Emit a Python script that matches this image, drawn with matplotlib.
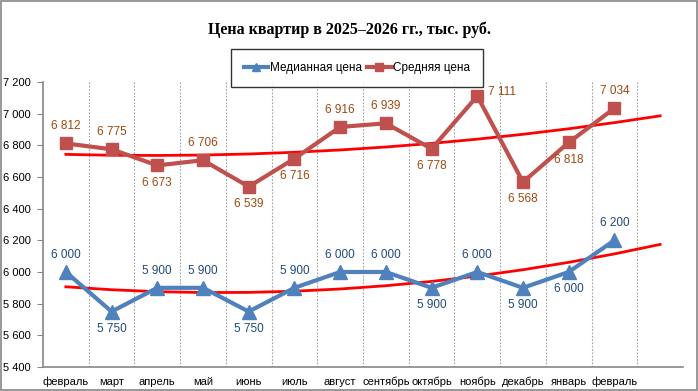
import numpy as np
import matplotlib
matplotlib.use("Agg")
import matplotlib.pyplot as plt
from matplotlib.lines import Line2D
from matplotlib.patches import Rectangle

months = ["февраль", "март", "апрель", "май", "июнь", "июль", "август",
          "сентябрь", "октябрь", "ноябрь", "декабрь", "январь", "февраль"]
median_price = [6000, 5750, 5900, 5900, 5750, 5900, 6000, 6000, 5900, 6000, 5900, 6000, 6200]
mean_price = [6812, 6775, 6673, 6706, 6539, 6716, 6916, 6939, 6778, 7111, 6568, 6818, 7034]
# where each data label sits: a = above, b = below, r = right
median_pos = ["a", "b", "a", "a", "b", "a", "a", "a", "b", "a", "b", "b", "a"]
mean_pos = ["a", "a", "b", "a", "b", "b", "a", "a", "b", "r", "b", "b", "a"]
yticks = [5400, 5600, 5800, 6000, 6200, 6400, 6600, 6800, 7000, 7200]

blue = "#4F81BD"
red = "#C0504D"
blue_lbl = "#1F497D"
red_lbl = "#9E480E"
font = "Liberation Sans"

def fmt(v):
    return "{:,}".format(v).replace(",", " ")

fig = plt.figure(figsize=(6.98, 3.91), dpi=100)
ax = fig.add_axes([0.0616, 0.0614, 0.9169, 0.7289])

x = np.arange(len(months))
xt = np.arange(len(months) + 1)

# polynomial (2nd order) trendlines, forecast one period forward
for data in (median_price, mean_price):
    c = np.polyfit(x, data, 2)
    ax.plot(xt, np.polyval(c, xt), color="red", lw=2, zorder=2)

ax.plot(x, median_price, color=blue, lw=3, marker="^", ms=10, zorder=3)
ax.plot(x, mean_price, color=red, lw=3, marker="s", ms=9, zorder=3)

def labels(data, pos, color):
    for i, (v, p) in enumerate(zip(data, pos)):
        if p == "a":
            ax.annotate(fmt(v), (i, v), xytext=(0, 8), textcoords="offset points",
                        ha="center", va="bottom", color=color, fontsize=8.5, family=font)
        elif p == "b":
            ax.annotate(fmt(v), (i, v), xytext=(0, -8), textcoords="offset points",
                        ha="center", va="top", color=color, fontsize=8.5, family=font)
        else:
            ax.annotate(fmt(v), (i, v), xytext=(8, 3), textcoords="offset points",
                        ha="left", va="center", color=color, fontsize=8.5, family=font)

labels(median_price, median_pos, blue_lbl)
labels(mean_price, mean_pos, red_lbl)

ax.set_xlim(-0.5, len(months) - 0.5 + 1)
ax.set_ylim(yticks[0], yticks[-1])
ax.set_yticks(yticks)
ax.set_yticklabels([fmt(v) for v in yticks], family=font, fontsize=8)
ax.set_xticks(x)
ax.set_xticklabels(months, family=font, fontsize=8)
ax.tick_params(axis="x", length=0, pad=7)
ax.tick_params(axis="y", length=4, color="#868686", pad=5)

for b in np.arange(0.5, len(months) + 0.5, 1):
    ax.axvline(b, color="#A0A0A0", lw=0.8, ls=(0, (1.5, 1.5)), zorder=1)

for s in ["top", "right"]:
    ax.spines[s].set_visible(False)
for s in ["left", "bottom"]:
    ax.spines[s].set_color("#868686")
    ax.spines[s].set_linewidth(1.2)

fig.text(0.5, 0.923, "Цена квартир в 2025–2026 гг., тыс. руб.", ha="center", va="center",
         family="Liberation Serif", fontweight="bold", fontsize=11.5)

handles = [Line2D([], [], color=blue, lw=3, marker="^", ms=6),
           Line2D([], [], color=red, lw=3, marker="s", ms=5.5)]
leg = fig.legend(handles, ["Медианная цена", "Средняя цена"], loc="center",
                 bbox_to_anchor=(0.5115, 0.825), ncol=2, frameon=True, fancybox=False,
                 prop={"family": font, "size": 8.5}, handlelength=2.1, columnspacing=0.4,
                 handletextpad=0.15, borderpad=1.1, borderaxespad=0)
leg.get_frame().set_edgecolor("black")
leg.get_frame().set_linewidth(1)

fig.patches.append(Rectangle((0.001, 0.002), 0.997, 0.996, transform=fig.transFigure,
                             fill=False, edgecolor="#868686", lw=1.2))

fig.savefig("out.png", dpi=100)
